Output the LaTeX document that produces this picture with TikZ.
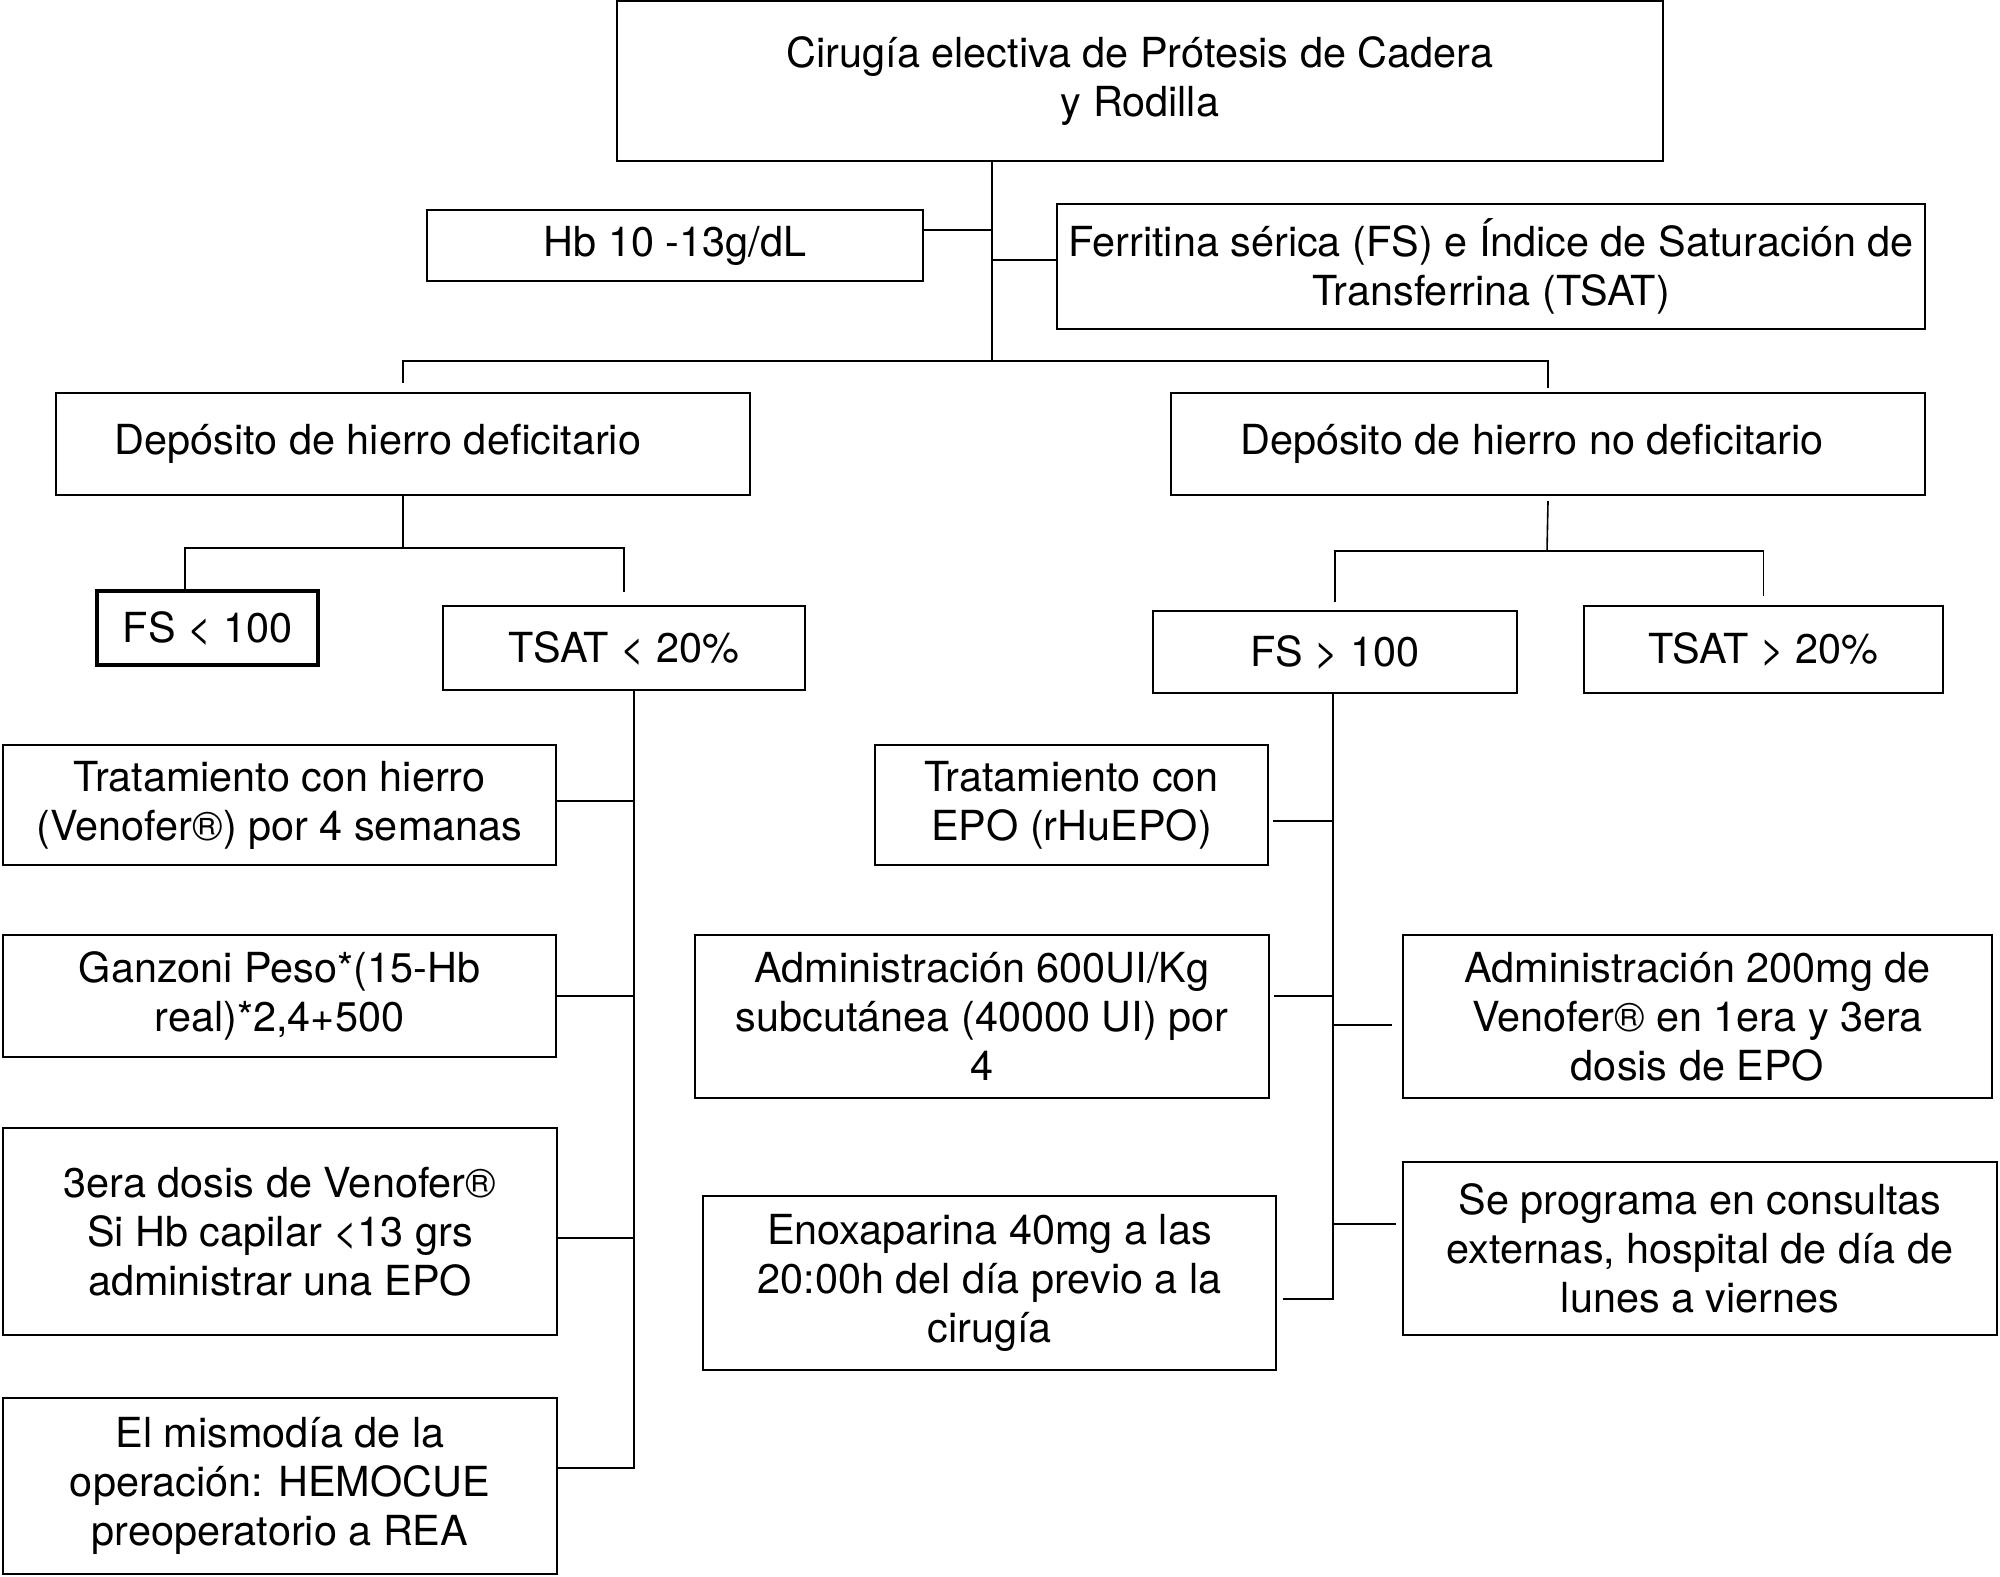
\documentclass[tikz,border=0pt]{standalone}
\usepackage{fontspec}
\setmainfont{TeX Gyre Heros}
\newcommand\fsz{\fontsize{20.7pt}{24.5pt}\selectfont}
\begin{document}
\begin{tikzpicture}[x=0.5pt,y=-0.5pt,
  box/.style={draw, line width=1pt, inner sep=0pt, align=center, font=\fsz},
  conn/.style={line width=0.8pt}]
\useasboundingbox (0,0) rectangle (2000,1577);

\node[box, minimum width=523pt, minimum height=80pt] (top) at (1140,81) {Cirugía electiva de Prótesis de Cadera\\y Rodilla};
\node[box, minimum width=248pt, minimum height=35.5pt] (hb) at (675,245.5) {Hb 10 -13g/dL};
\node[box, minimum width=434pt, minimum height=62.5pt] (fer) at (1491,266.5) {Ferritina sérica (FS) e Índice de Saturación de\\Transferrina (TSAT)};
\node[box, minimum width=347pt, minimum height=51pt] (def) at (403,444) {Depósito de hierro deficitario\hspace*{25pt}};
\node[box, minimum width=377pt, minimum height=51pt] (ndef) at (1548,444) {Depósito de hierro no deficitario\hspace*{16pt}};
\node[box, line width=2pt, minimum width=110.5pt, minimum height=37pt] (fs1) at (207.5,628) {FS < 100};
\node[box, minimum width=181pt, minimum height=42pt] (ts1) at (624,648) {TSAT < 20\%};
\node[box, minimum width=182pt, minimum height=41pt] (fs2) at (1335,652) {FS > 100};
\node[box, minimum width=179.5pt, minimum height=43.5pt] (ts2) at (1763.5,649.5) {TSAT > 20\%};
\node[box, minimum width=276.5pt, minimum height=60pt] (l1) at (279.5,805) {Tratamiento con hierro\\(Venofer®) por 4 semanas};
\node[box, minimum width=276.5pt, minimum height=61pt] (l2) at (279.5,996) {Ganzoni Peso*(15-Hb\\real)*2,4+500};
\node[box, minimum width=277pt, minimum height=103.5pt] (l3) at (280,1231.5) {3era dosis de Venofer®\\Si Hb capilar <13 grs\\administrar una EPO};
\node[box, minimum width=277pt, minimum height=88pt] (l4) at (280,1486) {El mismodía de la\\operación: HEMOCUE\\preoperatorio a REA};
\node[box, minimum width=196.5pt, minimum height=60pt] (m1) at (1071.5,805) {Tratamiento con\\EPO (rHuEPO)};
\node[box, minimum width=287pt, minimum height=81.5pt] (m2) at (982,1016.5) {Administración 600UI/Kg\\subcutánea (40000 UI) por\\4};
\node[box, minimum width=286.5pt, minimum height=87pt] (m3) at (989.5,1283) {Enoxaparina 40mg a las\\20:00h del día previo a la\\cirugía};
\node[box, minimum width=294.5pt, minimum height=81.5pt] (r1) at (1697.5,1016.5) {Administración 200mg de\\Venofer® en 1era y 3era\\dosis de EPO};
\node[box, minimum width=297pt, minimum height=86.5pt] (r2) at (1700,1248.5) {Se programa en consultas\\externas, hospital de día de\\lunes a viernes};

% top level connectors
\coordinate (j0) at (992,361);
\draw[conn] (top.south -| j0) -- (j0);
\draw[conn] (hb.east |- 0,230) -- (j0 |- 0,230);
\draw[conn] (j0 |- 0,260) -- (fer.west |- 0,260);
\draw[conn] ([yshift=4.5pt]def.north) |- (j0) -| ([yshift=2pt]ndef.north);

% deficitario branch
\coordinate (j1) at (403,548);
\draw[conn] (def.south) -- (j1);
\draw[conn] (fs1.north -| 185,0) |- (j1) -| ([yshift=6.5pt]ts1.north);

% no deficitario branch
\coordinate (j2) at (1547,551);
\draw[conn] ([yshift=-2.5pt]ndef.south) -- (j2);
\draw[conn] ([yshift=4pt]fs2.north) |- (j2) -| ([yshift=4.5pt]ts2.north);

% left column
\coordinate (j3) at (634,1468);
\draw[conn] (ts1.south -| j3) -- (j3) -- (l4.east |- j3);
\draw[conn] (l1.east |- 0,801) -- (j3 |- 0,801);
\draw[conn] (l2.east |- 0,996) -- (j3 |- 0,996);
\draw[conn] (l3.east |- 0,1238) -- (j3 |- 0,1238);

% right column
\coordinate (j4) at (1333,1299);
\draw[conn] (fs2.south -| j4) -- (j4) -- ([xshift=3pt]m3.east |- j4);
\draw[conn] ([xshift=2pt]m1.east |- 0,821) -- (j4 |- 0,821);
\draw[conn] ([xshift=2pt]m2.east |- 0,996) -- (j4 |- 0,996);
\draw[conn] (j4 |- 0,1025) -- ([xshift=-5pt]r1.west |- 0,1025);
\draw[conn] (j4 |- 0,1224) -- ([xshift=-3pt]r2.west |- 0,1224);
\end{tikzpicture}
\end{document}
